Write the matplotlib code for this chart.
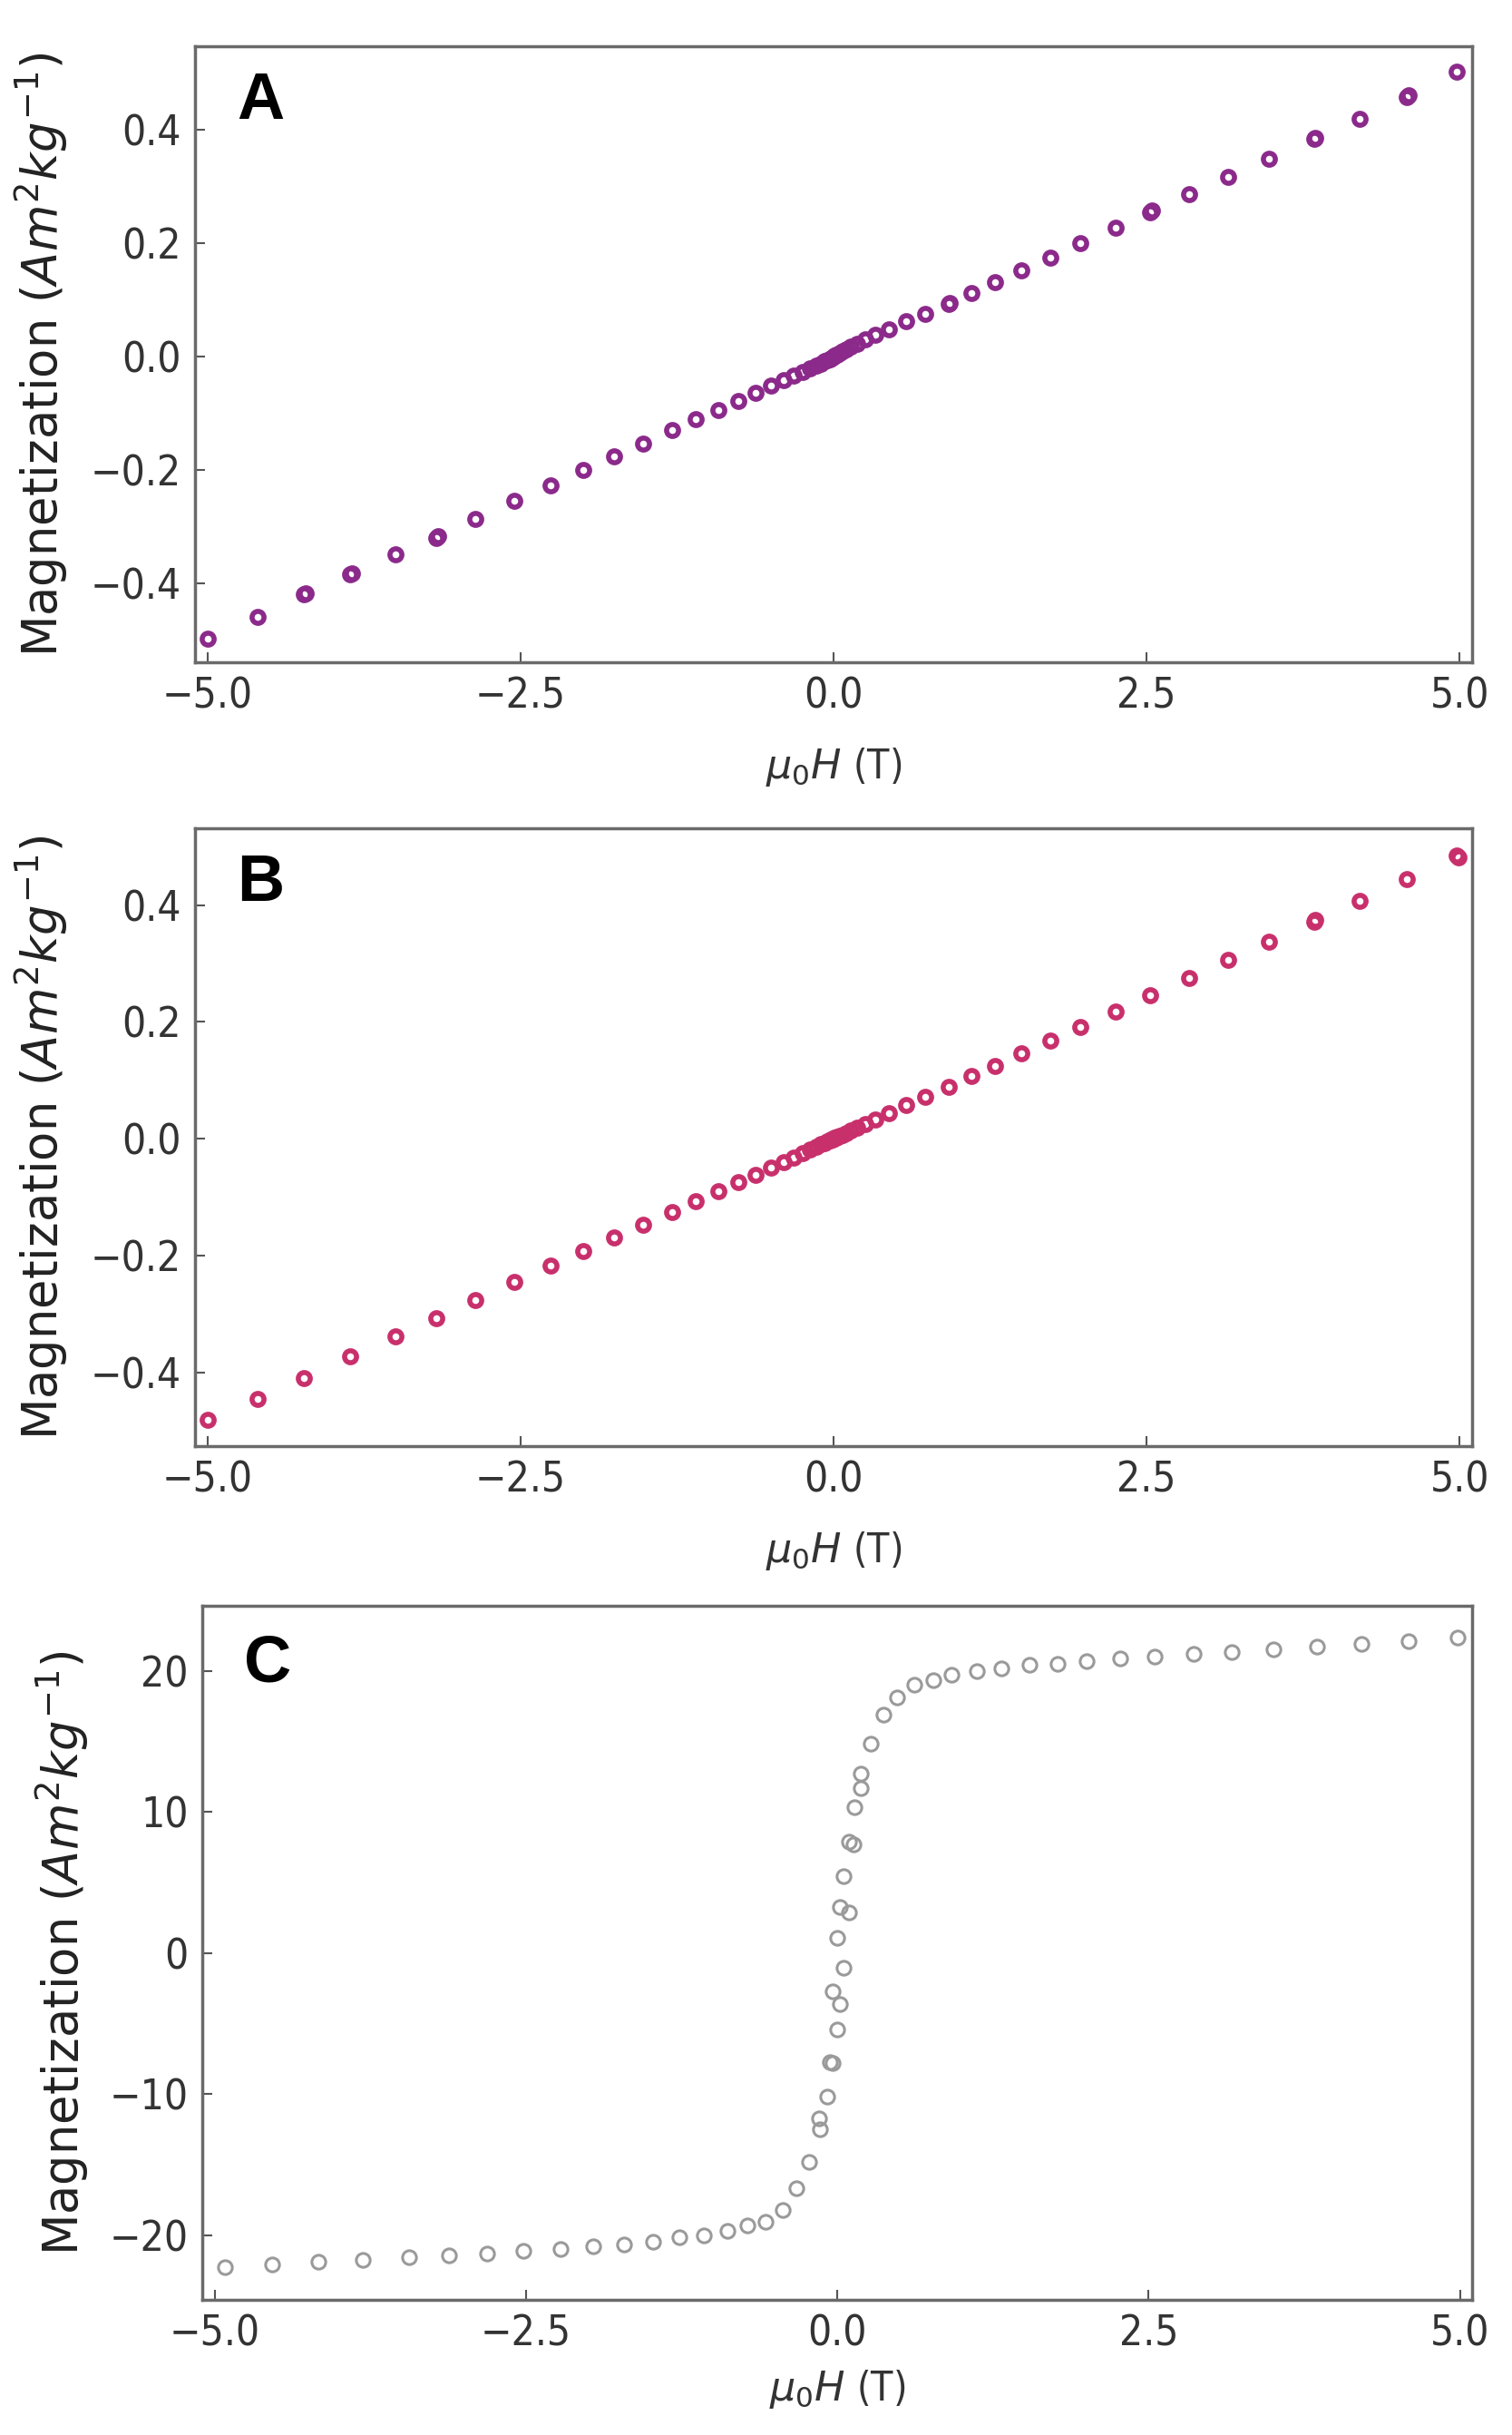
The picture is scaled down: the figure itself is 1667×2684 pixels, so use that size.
import matplotlib
matplotlib.use("Agg")
import matplotlib.pyplot as plt

# Muestra A: respuesta casi lineal (paramagnetica)
a_campo = [-5.0, -4.6, -4.23, -4.22, -3.86, -3.85, -3.5, -3.17, -3.16, -2.86, -2.55, -2.26,
           -2.0, -1.75, -1.52, -1.29, -1.1, -0.92, -0.76, -0.62, -0.5, -0.4, -0.32, -0.25,
           -0.19, -0.14, -0.1, -0.07, -0.05, -0.03, -0.02, -0.01, 0.0, 0.01, 0.02, 0.03,
           0.05, 0.07, 0.1, 0.14, 0.19, 0.25, 0.33, 0.44, 0.58, 0.73, 0.92, 0.93, 1.1,
           1.29, 1.5, 1.73, 1.97, 2.25, 2.53, 2.54, 2.84, 3.15, 3.48, 3.84, 3.85, 4.2,
           4.58, 4.59, 4.98]
a_mag = [-0.498, -0.46, -0.42, -0.418, -0.385, -0.383, -0.35, -0.32, -0.318, -0.287, -0.254, -0.227,
         -0.2, -0.176, -0.153, -0.13, -0.111, -0.094, -0.078, -0.064, -0.052, -0.042, -0.034, -0.027,
         -0.021, -0.016, -0.012, -0.008, -0.006, -0.004, -0.003, -0.001, 0.0, 0.001, 0.003, 0.004,
         0.006, 0.009, 0.013, 0.018, 0.023, 0.03, 0.038, 0.048, 0.062, 0.076, 0.093, 0.095, 0.112,
         0.131, 0.152, 0.175, 0.2, 0.227, 0.255, 0.258, 0.287, 0.318, 0.35, 0.384, 0.386, 0.42,
         0.458, 0.462, 0.503]

# Muestra B: respuesta lineal algo menor
b_campo = [-5.0, -4.6, -4.23, -3.86, -3.5, -3.17, -2.86, -2.55, -2.26, -2.0, -1.75, -1.52,
           -1.29, -1.1, -0.92, -0.76, -0.62, -0.5, -0.4, -0.32, -0.25, -0.19, -0.14, -0.1,
           -0.07, -0.05, -0.03, -0.02, -0.01, 0.0, 0.01, 0.02, 0.03, 0.05, 0.07, 0.1,
           0.14, 0.19, 0.25, 0.33, 0.44, 0.58, 0.73, 0.92, 1.1, 1.29, 1.5, 1.73, 1.97,
           2.25, 2.53, 2.84, 3.15, 3.48, 3.84, 3.85, 4.2, 4.58, 4.98, 4.99]
b_mag = [-0.482, -0.445, -0.41, -0.373, -0.338, -0.307, -0.276, -0.246, -0.218, -0.193, -0.17, -0.147,
         -0.125, -0.107, -0.09, -0.075, -0.062, -0.05, -0.04, -0.032, -0.025, -0.019, -0.014, -0.01,
         -0.007, -0.005, -0.003, -0.002, -0.001, 0.0, 0.001, 0.002, 0.003, 0.005, 0.007, 0.01,
         0.014, 0.019, 0.025, 0.033, 0.043, 0.057, 0.071, 0.089, 0.107, 0.125, 0.146, 0.168, 0.191,
         0.218, 0.245, 0.275, 0.306, 0.337, 0.372, 0.374, 0.407, 0.445, 0.485, 0.482]

# Muestra C: ciclo de histeresis con saturacion
c_campo = [-4.92, -4.54, -4.17, -3.81, -3.44, -3.12, -2.81, -2.52, -2.22, -1.96, -1.71, -1.48,
           -1.27, -1.07, -0.88, -0.72, -0.58, -0.44, -0.33, -0.23, -0.14, -0.15, -0.08, -0.06,
           -0.04, 0.0, 0.02, -0.04, 0.05, 0.0, 0.02, 0.09, 0.05, 0.09, 0.13, 0.14, 0.19,
           0.19, 0.27, 0.37, 0.48, 0.62, 0.77, 0.92, 1.12, 1.32, 1.54, 1.77, 2.0, 2.27,
           2.55, 2.86, 3.17, 3.5, 3.85, 4.21, 4.59, 4.98]
c_mag = [-22.3, -22.1, -21.9, -21.75, -21.6, -21.45, -21.3, -21.15, -21.0, -20.8, -20.7, -20.45,
         -20.15, -20.0, -19.7, -19.35, -19.05, -18.25, -16.7, -14.8, -12.5, -11.75, -10.2, -7.75,
         -7.8, -5.45, -3.6, -2.75, -1.05, 1.05, 3.25, 2.85, 5.45, 7.9, 7.7, 10.3, 11.7,
         12.7, 14.8, 16.9, 18.1, 19.0, 19.35, 19.7, 20.0, 20.2, 20.4, 20.5, 20.7, 20.9,
         21.0, 21.2, 21.35, 21.55, 21.7, 21.9, 22.1, 22.35]

etiqueta_y = r"Magnetization ($Am^2kg^{-1}$)"
etiqueta_x = r"$\mu_0H$ (T)"
fuente_num = ["Liberation Sans Narrow", "DejaVu Sans Condensed", "DejaVu Sans"]

fig = plt.figure(figsize=(16.67, 26.84), dpi=100)

# letra, datos, color, tamaño de marcador, posicion, limites y, ticks y, formato, coords de etiquetas
paneles = [
    ("A", a_campo, a_mag, "#8b2a8b", 9.5, 4, [0.129, 0.728, 0.8446, 0.253], (-0.54, 0.548),
     [-0.4, -0.2, 0.0, 0.2, 0.4], "{:.1f}", -0.098, -0.135),
    ("B", b_campo, b_mag, "#c8306c", 9.5, 4, [0.129, 0.406, 0.8446, 0.254], (-0.527, 0.532),
     [-0.4, -0.2, 0.0, 0.2, 0.4], "{:.1f}", -0.098, -0.135),
    ("C", c_campo, c_mag, "#9a9a9a", 11, 2.2, [0.1338, 0.0555, 0.840, 0.285], (-24.6, 24.6),
     [-20, -10, 0, 10, 20], "{:d}", -0.088, -0.098),
]

for letra, h, m, color, ms, mew, pos, ylim, yticks, fmt, ylab_x, xlab_y in paneles:
    ax = fig.add_axes(pos)
    ax.plot(h, m, linestyle="none", marker="o", markersize=ms, markerfacecolor="none",
            markeredgecolor=color, markeredgewidth=mew)
    ax.set_xlim(-5.1, 5.1)
    ax.set_ylim(*ylim)
    ax.set_xticks([-5.0, -2.5, 0.0, 2.5, 5.0])
    ax.set_xticklabels(["\u22125.0", "\u22122.5", "0.0", "2.5", "5.0"], family=fuente_num,
                       fontstretch="condensed", fontsize=33, color="#333333")
    ax.set_yticks(yticks)
    ax.set_yticklabels([fmt.format(v).replace("-", "\u2212") for v in yticks], family=fuente_num,
                       fontstretch="condensed", fontsize=33, color="#333333")
    ax.tick_params(direction="in", length=8, width=1.5, color="#555555", pad=11, top=False, right=False)
    for s in ax.spines.values():
        s.set_linewidth(2.5)
        s.set_color("#6a6a6a")
    ax.set_xlabel(etiqueta_x, family=fuente_num, fontstretch="condensed", fontsize=32, color="#333333")
    ax.xaxis.set_label_coords(0.5, xlab_y)
    ax.set_ylabel(etiqueta_y, fontsize=38, color="#222222")
    ax.yaxis.set_label_coords(ylab_x, 0.5)
    ax.text(0.033, 0.96, letra, transform=ax.transAxes, ha="left", va="top",
            family="Liberation Sans", fontweight="bold", fontsize=52, color="black")

fig.savefig("out.png", dpi=100, facecolor="white")
